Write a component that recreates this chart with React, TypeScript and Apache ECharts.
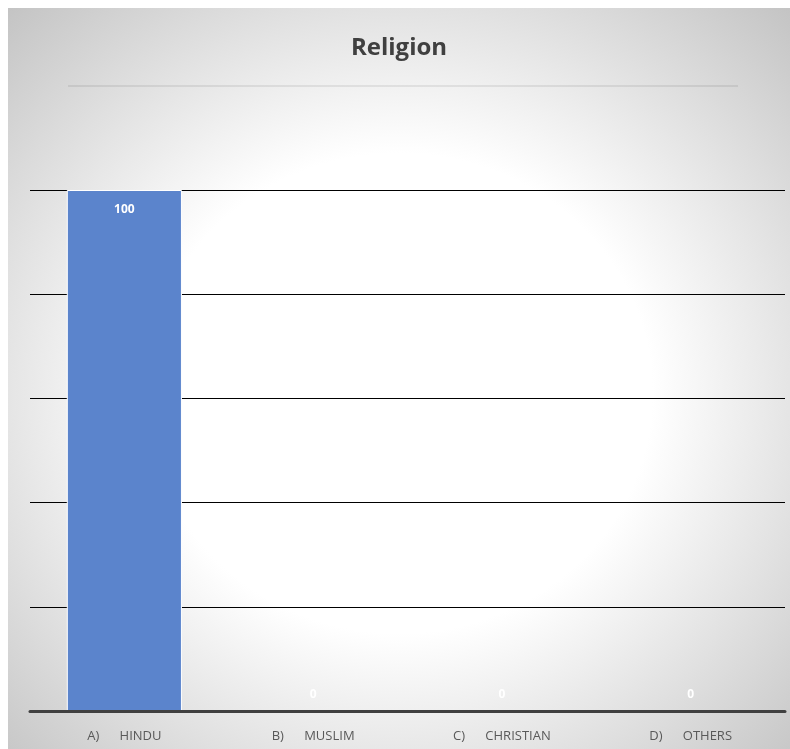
import React, { useEffect, useRef } from "react";
import * as echarts from "echarts";

const categories = ["A)      HINDU", "B)      MUSLIM", "C)      CHRISTIAN", "D)      OTHERS"];
const values = [100, 0, 0, 0];
const yMin = 0;
const yMax = 100;
const yInterval = 20;

export default function App() {
  const ref = useRef<HTMLDivElement>(null);
  useEffect(() => {
    document.body.style.overflow = "hidden";
    const chart = echarts.init(ref.current!, undefined, { renderer: "svg" });
    const font = "'Open Sans', 'Noto Sans', sans-serif";
    chart.setOption({
      animation: false,
      backgroundColor: {
        type: "radial",
        x: 0.5,
        y: 0.52,
        r: 0.72,
        colorStops: [
          { offset: 0, color: "#ffffff" },
          { offset: 0.45, color: "#ffffff" },
          { offset: 1, color: "#c4c4c4" },
        ],
      },
      title: {
        text: "Religion",
        left: "center",
        top: 20,
        textStyle: { fontFamily: font, fontSize: 24, fontWeight: "bold", color: "#404040" },
      },
      graphic: [
        {
          type: "line",
          shape: { x1: 60, y1: 78, x2: 730, y2: 78 },
          style: { stroke: "rgba(0,0,0,0.1)", lineWidth: 1.5 },
        },
      ],
      grid: { left: 22, right: 5, top: 182, bottom: 38, containLabel: false },
      xAxis: {
        type: "category",
        data: categories,
        z: 5,
        axisLine: { show: true, lineStyle: { color: "#404040", width: 3 } },
        axisTick: { show: false },
        axisLabel: {
          fontFamily: font,
          fontSize: 13,
          color: "#595959",
          margin: 17,
        },
      },
      yAxis: {
        type: "value",
        min: yMin,
        max: yMax,
        interval: yInterval,
        axisLabel: { show: false },
        axisLine: { show: false },
        axisTick: { show: false },
        splitLine: { show: true, lineStyle: { color: "#000000", width: 1 } },
      },
      series: [
        {
          type: "bar",
          barWidth: "61%",
          z: 2,
          data: values.map((v) => ({
            value: v,
            itemStyle: v === 0 ? { borderWidth: 0 } : {},
            label: v === 0 ? { position: "top", distance: 12 } : { position: "insideTop", distance: 12 },
          })),
          itemStyle: { color: "#5b84cc", borderColor: "#ffffff", borderWidth: 1 },
          label: {
            show: true,
            color: "#ffffff",
            fontFamily: font,
            fontSize: 12,
            fontWeight: "bold",
          },
        },
      ],
    });
    return () => chart.dispose();
  }, []);
  return (
    <div
      ref={ref}
      style={{ position: "fixed", left: 8, top: 8, width: 782, height: 741 }}
    />
  );
}
